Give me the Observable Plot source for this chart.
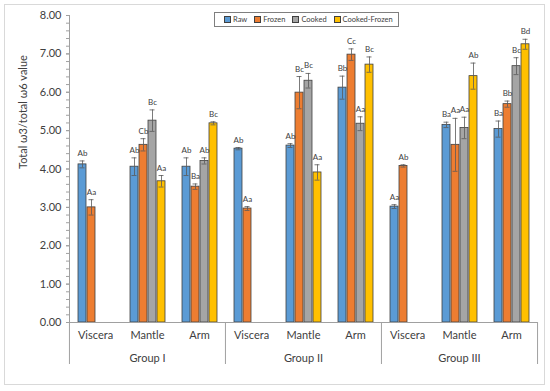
<!DOCTYPE html>
<html>
<head>
<meta charset="utf-8">
<script src="https://cdn.jsdelivr.net/npm/d3@7"></script>
<script src="https://cdn.jsdelivr.net/npm/@observablehq/plot@0.6"></script>
<style>
  body { margin: 0; background: #fff; font-family: Lato, "Open Sans", sans-serif; }
  #wrap { position: relative; width: 550px; height: 391px; }
  #border { position: absolute; left: 4px; top: 4px; width: 541px; height: 381px; border: 1px solid #d9d9d9; box-sizing: border-box; }
  #chart { position: absolute; left: 0; top: 0; }
  #legend { position: absolute; left: 214px; top: 12px; height: 15px; border: 1px solid #7f7f7f; box-sizing: border-box;
            display: flex; align-items: center; gap: 7px; padding: 0 5px 0 9px; font-size: 7.5px; color: #404040; background: #fff; }
  #legend span.sw { display: inline-block; width: 5px; height: 5px; border: 1px solid #404040; margin-right: 2px; vertical-align: -1px; }
</style>
</head>
<body>
<div id="wrap">
  <div id="border"></div>
  <div id="chart"></div>
  <div id="legend"></div>
</div>
<script>
const groups = ["Group I", "Group II", "Group III"];
const tissues = ["Viscera", "Mantle", "Arm"];
const series = ["Raw", "Frozen", "Cooked", "Cooked-Frozen"];
const colors = ["#5B9BD5", "#ED7D31", "#A5A5A5", "#FFC000"];
const yTicks = [0, 1, 2, 3, 4, 5, 6, 7, 8];
const yTitle = "Total ω3/total ω6 value";

// order: I-Viscera, I-Mantle, I-Arm, II-Viscera, II-Mantle, II-Arm, III-Viscera, III-Mantle, III-Arm
const rawValues    = [4.12, 4.06, 4.06, 4.53, 4.61, 6.12, 3.02, 5.15, 5.04];
const frozenValues = [3.00, 4.63, 3.54, 2.97, 5.99, 6.98, 4.08, 4.63, 5.69];
const cookedValues = [null, 5.26, 4.21, null, 6.30, 5.18, null, 5.07, 6.68];
const cfValues     = [null, 3.68, 5.19, null, 3.91, 6.72, null, 6.42, 7.25];

const rawErr    = [0.09, 0.23, 0.23, 0.03, 0.05, 0.30, 0.05, 0.07, 0.21];
const frozenErr = [0.20, 0.16, 0.07, 0.05, 0.42, 0.15, 0.03, 0.69, 0.08];
const cookedErr = [null, 0.28, 0.08, null, 0.19, 0.18, null, 0.28, 0.22];
const cfErr     = [null, 0.15, 0.04, null, 0.20, 0.20, null, 0.34, 0.13];

const rawLabels    = ["Ab", "Ab", "Ab", "Ab", "Ab", "Bb", "Aa", "Ba", "Ba"];
const frozenLabels = ["Aa", "Cb", "Ba", "Aa", "Bc", "Cc", "Ab", "Aa", "Bb"];
const cookedLabels = [null, "Bc", "Ab", null, "Bc", "Aa", null, "Aa", "Bc"];
const cfLabels     = [null, "Aa", "Bc", null, "Aa", "Bc", null, "Ab", "Bd"];

const keys = groups.flatMap(g => tissues.map(t => g + "|" + t));
const valueSets = [rawValues, frozenValues, cookedValues, cfValues];
const errSets = [rawErr, frozenErr, cookedErr, cfErr];
const labelSets = [rawLabels, frozenLabels, cookedLabels, cfLabels];

const data = [];
keys.forEach((k, i) => {
  series.forEach((s, j) => {
    const v = valueSets[j][i];
    if (v == null) return;
    const e = errSets[j][i];
    data.push({key: k, series: s, value: v, lo: v - e, hi: v + e, label: labelSets[j][i]});
  });
});

const W = 550, H = 391;
const mL = 68, mR = 13, mT = 15, mB = 69;
const fw = (W - mL - mR) / keys.length;
const axisGrey = "#a0a0a0";
const textColor = "#404040";

const leftSeps = groups.map(g => g + "|" + tissues[0]);
const rightSeps = [groups[groups.length - 1] + "|" + tissues[tissues.length - 1]];
const groupLabelData = groups.map(g => ({key: g + "|" + tissues[1], name: g}));
const titleData = [{key: keys[0], name: yTitle}];

const capW = 5;

const chart = Plot.plot({
  width: W, height: H,
  marginLeft: mL, marginRight: mR, marginTop: mT, marginBottom: mB,
  style: {fontFamily: "Lato, 'Open Sans', sans-serif", color: textColor, background: "transparent"},
  fx: {domain: keys, padding: 0, axis: null},
  x: {domain: series, paddingInner: 0.15, paddingOuter: 0.73, axis: null},
  y: {domain: [0, 8], axis: null},
  color: {domain: series, range: colors},
  marks: [
    Plot.axisY({ticks: d3.range(0, 8.001, 0.2), tickSize: 3, tickFormat: () => "", stroke: axisGrey, label: null}),
    Plot.axisY({ticks: yTicks, tickSize: 3, tickPadding: 5, tickFormat: d3.format(".2f"), fontSize: 11, stroke: axisGrey, label: null}),
    Plot.text(titleData, {fx: "key", text: "name", frameAnchor: "left", rotate: -90, dx: -46, fontSize: 11, fill: textColor}),
    Plot.frame({anchor: "left", facetAnchor: "left", stroke: axisGrey}),
    Plot.barY(data, {fx: "key", x: "series", y: "value", fill: "series", stroke: "#404040", strokeWidth: 0.8}),
    Plot.ruleX(data, {fx: "key", x: "series", y1: "lo", y2: "hi", stroke: "#595959", strokeWidth: 0.8}),
    Plot.tickY(data, {fx: "key", x: "series", y: "hi", stroke: "#595959", strokeWidth: 0.8}),
    Plot.tickY(data, {fx: "key", x: "series", y: "lo", stroke: "#595959", strokeWidth: 0.8}),
    Plot.text(data, {fx: "key", x: "series", y: "hi", text: "label", dy: -5, lineAnchor: "bottom", fontSize: 8, fill: textColor}),
    Plot.ruleY([0], {stroke: axisGrey}),
    Plot.ruleX(leftSeps, {fx: d => d, x: null, y1: 0, y2: 0, insetBottom: -42, dx: -fw / 2, stroke: axisGrey}),
    Plot.ruleX(rightSeps, {fx: d => d, x: null, y1: 0, y2: 0, insetBottom: -42, dx: fw / 2, stroke: axisGrey}),
    Plot.axisFx({domain: keys, anchor: "bottom", tickSize: 0, tickPadding: 9, fontSize: 11, fill: textColor,
      tickFormat: k => k.split("|")[1], label: null}),
    Plot.text(groupLabelData, {fx: "key", text: "name", frameAnchor: "bottom", dy: 36, fontSize: 11, fill: textColor, lineAnchor: "middle"})
  ]
});

// shrink error-bar caps to a fixed width
chart.querySelectorAll("g[aria-label='tick'] line").forEach(l => {
  const x1 = +l.getAttribute("x1"), x2 = +l.getAttribute("x2");
  const c = (x1 + x2) / 2;
  l.setAttribute("x1", c - capW / 2);
  l.setAttribute("x2", c + capW / 2);
});

document.getElementById("chart").appendChild(chart);

const legend = document.getElementById("legend");
series.forEach((s, i) => {
  const item = document.createElement("div");
  item.innerHTML = `<span class="sw" style="background:${colors[i]}"></span>${s}`;
  legend.appendChild(item);
});
</script>
</body>
</html>
